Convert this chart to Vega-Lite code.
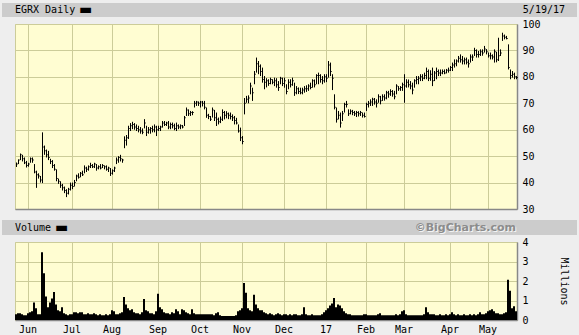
{
"$schema": "https://vega.github.io/schema/vega-lite/v6.json",
"background": "#eeeeee",
"padding": {"left": 2, "top": 3, "right": 2, "bottom": 4},
"spacing": 1,
"config": {
  "view": {"stroke": null},
  "axis": {"labelFont": "DejaVu Sans Mono", "labelFontSize": 10, "labelColor": "#000000", "titleFont": "DejaVu Sans Mono", "titleFontSize": 10, "titleFontWeight": "normal", "titleColor": "#000000", "gridColor": "#cccc99", "gridOpacity": 1, "gridWidth": 1, "domainColor": "#888888", "domainWidth": 1.5, "ticks": false},
  "text": {"font": "DejaVu Sans Mono", "fontSize": 10, "color": "#000000", "baseline": "middle"}
},
"datasets": {
"p": [
{"d":"2016-05-23","h":47.6,"l":45.9,"c":47,"v":0.3},
{"d":"2016-05-24","h":48.8,"l":47,"c":48.5,"v":0.35},
{"d":"2016-05-25","h":51,"l":48.5,"c":50.5,"v":0.35},
{"d":"2016-05-26","h":50.5,"l":48,"c":49,"v":0.3},
{"d":"2016-05-27","h":49.5,"l":47,"c":47.5,"v":0.25},
{"d":"2016-05-31","h":48.2,"l":45.7,"c":46.5,"v":0.25},
{"d":"2016-06-01","h":47.5,"l":46,"c":47,"v":0.35},
{"d":"2016-06-02","h":49.5,"l":47.5,"c":49,"v":0.4},
{"d":"2016-06-03","h":49.5,"l":47.5,"c":48.5,"v":0.45},
{"d":"2016-06-06","h":47,"l":43.5,"c":44,"v":0.9},
{"d":"2016-06-07","h":44.5,"l":38,"c":43,"v":0.6},
{"d":"2016-06-08","h":43.5,"l":41.5,"c":42.5,"v":0.3},
{"d":"2016-06-09","h":42.5,"l":40,"c":41,"v":0.3},
{"d":"2016-06-10","h":59,"l":39.8,"c":53.5,"v":3.47},
{"d":"2016-06-13","h":54,"l":50.5,"c":52,"v":2.4},
{"d":"2016-06-14","h":52.5,"l":49.5,"c":50.5,"v":1.2},
{"d":"2016-06-15","h":52,"l":48.5,"c":49.5,"v":0.65},
{"d":"2016-06-16","h":49,"l":47,"c":48,"v":0.9},
{"d":"2016-06-17","h":48.5,"l":45.5,"c":46.5,"v":1.1},
{"d":"2016-06-20","h":47,"l":44.5,"c":45,"v":1.43},
{"d":"2016-06-21","h":45,"l":40.5,"c":41.5,"v":0.8},
{"d":"2016-06-22","h":41.5,"l":39.5,"c":40.5,"v":0.5},
{"d":"2016-06-23","h":40.5,"l":38,"c":39,"v":0.45},
{"d":"2016-06-24","h":39.5,"l":37,"c":38,"v":0.65},
{"d":"2016-06-27","h":38.5,"l":36,"c":37,"v":0.35},
{"d":"2016-06-28","h":37.5,"l":34.5,"c":36,"v":0.3},
{"d":"2016-06-29","h":38,"l":35.5,"c":37.5,"v":0.25},
{"d":"2016-06-30","h":40,"l":37,"c":39,"v":0.3},
{"d":"2016-07-01","h":40,"l":37.5,"c":38.5,"v":0.3},
{"d":"2016-07-05","h":41,"l":38.5,"c":40,"v":0.4},
{"d":"2016-07-06","h":43,"l":40.5,"c":42.5,"v":0.4},
{"d":"2016-07-07","h":43.5,"l":41.5,"c":42,"v":0.35},
{"d":"2016-07-08","h":44,"l":42,"c":43.5,"v":0.4},
{"d":"2016-07-11","h":44.5,"l":42.5,"c":43,"v":0.4},
{"d":"2016-07-12","h":46.5,"l":43.5,"c":45.5,"v":0.3},
{"d":"2016-07-13","h":46,"l":44,"c":45,"v":0.3},
{"d":"2016-07-14","h":46.5,"l":44.5,"c":46,"v":0.35},
{"d":"2016-07-15","h":47.5,"l":45.5,"c":46.5,"v":0.3},
{"d":"2016-07-18","h":47,"l":45.5,"c":46,"v":0.3},
{"d":"2016-07-19","h":47.5,"l":45.5,"c":47,"v":0.35},
{"d":"2016-07-20","h":47,"l":44.5,"c":45.5,"v":0.3},
{"d":"2016-07-21","h":46.5,"l":45,"c":46,"v":0.25},
{"d":"2016-07-22","h":47,"l":45,"c":45.5,"v":0.3},
{"d":"2016-07-25","h":47,"l":45.5,"c":46.5,"v":0.25},
{"d":"2016-07-26","h":46.5,"l":45,"c":46,"v":0.25},
{"d":"2016-07-27","h":46.5,"l":44.5,"c":45,"v":0.3},
{"d":"2016-07-28","h":46,"l":44,"c":45.5,"v":0.25},
{"d":"2016-07-29","h":45.5,"l":42.5,"c":43.5,"v":0.3},
{"d":"2016-08-01","h":45,"l":43,"c":44.5,"v":0.5},
{"d":"2016-08-02","h":46,"l":44,"c":45.5,"v":0.45},
{"d":"2016-08-03","h":49.5,"l":47,"c":48.5,"v":0.3},
{"d":"2016-08-04","h":50,"l":47.5,"c":49.5,"v":0.3},
{"d":"2016-08-05","h":50.5,"l":48,"c":49,"v":0.35},
{"d":"2016-08-08","h":49,"l":47.5,"c":48.5,"v":0.4},
{"d":"2016-08-09","h":57.5,"l":53,"c":56,"v":1.18},
{"d":"2016-08-10","h":58,"l":54,"c":57,"v":0.8},
{"d":"2016-08-11","h":61.5,"l":56.5,"c":60.5,"v":0.6},
{"d":"2016-08-12","h":62.5,"l":59.5,"c":61.5,"v":0.5},
{"d":"2016-08-15","h":63,"l":60.2,"c":62,"v":0.55},
{"d":"2016-08-16","h":62.5,"l":60,"c":61,"v":0.4},
{"d":"2016-08-17","h":62,"l":59.5,"c":60.5,"v":0.35},
{"d":"2016-08-18","h":61.5,"l":59,"c":60,"v":0.35},
{"d":"2016-08-19","h":61,"l":58.5,"c":59.5,"v":0.3},
{"d":"2016-08-22","h":60.5,"l":58.3,"c":59,"v":0.4},
{"d":"2016-08-23","h":64,"l":60.5,"c":62.5,"v":1.08},
{"d":"2016-08-24","h":61.5,"l":57.6,"c":59,"v":0.5},
{"d":"2016-08-25","h":61,"l":58.5,"c":60,"v":0.45},
{"d":"2016-08-26","h":61,"l":58.5,"c":60.5,"v":0.35},
{"d":"2016-08-29","h":61.5,"l":59,"c":60,"v":0.35},
{"d":"2016-08-30","h":62,"l":59,"c":61,"v":0.3},
{"d":"2016-08-31","h":61.5,"l":57.6,"c":60,"v":0.45},
{"d":"2016-09-01","h":61.5,"l":59.5,"c":60.5,"v":1.35},
{"d":"2016-09-02","h":61.5,"l":59.5,"c":61,"v":0.65},
{"d":"2016-09-06","h":63.3,"l":60.8,"c":62.5,"v":0.55},
{"d":"2016-09-07","h":63.3,"l":61.4,"c":62,"v":0.4},
{"d":"2016-09-08","h":63,"l":61.4,"c":62.5,"v":0.35},
{"d":"2016-09-09","h":63.3,"l":60.2,"c":61,"v":0.35},
{"d":"2016-09-12","h":62.7,"l":60.2,"c":62,"v":0.3},
{"d":"2016-09-13","h":62.7,"l":60.5,"c":61.5,"v":0.4},
{"d":"2016-09-14","h":62.3,"l":59.8,"c":60.5,"v":0.35},
{"d":"2016-09-15","h":62.7,"l":59.5,"c":61.5,"v":0.55},
{"d":"2016-09-16","h":62,"l":60.2,"c":61,"v":0.45},
{"d":"2016-09-19","h":62,"l":60.2,"c":61.5,"v":0.3},
{"d":"2016-09-20","h":61.8,"l":60.5,"c":61,"v":0.55},
{"d":"2016-09-21","h":65.2,"l":61.4,"c":64.5,"v":0.5},
{"d":"2016-09-22","h":68.4,"l":65.2,"c":67.5,"v":0.4},
{"d":"2016-09-23","h":67.7,"l":65.2,"c":66,"v":0.35},
{"d":"2016-09-26","h":67.1,"l":65.2,"c":66.5,"v":0.3},
{"d":"2016-09-27","h":67,"l":65.5,"c":66.5,"v":0.55},
{"d":"2016-09-28","h":70.9,"l":68.4,"c":70,"v":0.35},
{"d":"2016-09-29","h":70.9,"l":69,"c":70.5,"v":0.3},
{"d":"2016-09-30","h":70.7,"l":69,"c":70,"v":0.3},
{"d":"2016-10-03","h":70.9,"l":68.4,"c":70.5,"v":0.3},
{"d":"2016-10-04","h":70.9,"l":68.8,"c":70,"v":0.3},
{"d":"2016-10-05","h":70.9,"l":67.7,"c":68.5,"v":0.3},
{"d":"2016-10-06","h":68.4,"l":64.5,"c":65.5,"v":0.3},
{"d":"2016-10-07","h":66,"l":64,"c":65,"v":0.3},
{"d":"2016-10-10","h":65.2,"l":63.3,"c":64,"v":0.3},
{"d":"2016-10-11","h":68.4,"l":64.6,"c":67.5,"v":0.3},
{"d":"2016-10-12","h":67.5,"l":63.3,"c":64.5,"v":0.25},
{"d":"2016-10-13","h":66.5,"l":61.4,"c":64,"v":0.35},
{"d":"2016-10-14","h":64.6,"l":62,"c":63,"v":0.4},
{"d":"2016-10-17","h":65,"l":62.5,"c":64,"v":0.25},
{"d":"2016-10-18","h":67.7,"l":63.3,"c":66.5,"v":0.2},
{"d":"2016-10-19","h":67.1,"l":63.9,"c":65.5,"v":0.2},
{"d":"2016-10-20","h":67,"l":64.3,"c":66,"v":0.2},
{"d":"2016-10-21","h":66.5,"l":64,"c":65.5,"v":0.2},
{"d":"2016-10-24","h":66.5,"l":63.9,"c":65,"v":0.2},
{"d":"2016-10-25","h":65.8,"l":63.3,"c":64.5,"v":0.2},
{"d":"2016-10-26","h":65.2,"l":62,"c":63.5,"v":0.2},
{"d":"2016-10-27","h":64.5,"l":62,"c":62.5,"v":0.25},
{"d":"2016-10-28","h":62,"l":58.9,"c":59.5,"v":0.45},
{"d":"2016-10-31","h":60.8,"l":55.7,"c":57,"v":0.5},
{"d":"2016-11-01","h":57.6,"l":54.5,"c":55.5,"v":0.6},
{"d":"2016-11-02","h":72,"l":65.8,"c":70,"v":1.9},
{"d":"2016-11-03","h":72.8,"l":70.2,"c":71.5,"v":1.4},
{"d":"2016-11-04","h":73,"l":70,"c":72,"v":0.6},
{"d":"2016-11-07","h":77.8,"l":73.4,"c":76.5,"v":0.5},
{"d":"2016-11-08","h":75.9,"l":70.9,"c":74,"v":0.45},
{"d":"2016-11-09","h":82.2,"l":77.2,"c":81,"v":1.3},
{"d":"2016-11-10","h":87.3,"l":81.6,"c":85,"v":0.8},
{"d":"2016-11-11","h":86,"l":81,"c":84,"v":0.6},
{"d":"2016-11-14","h":84.7,"l":80.3,"c":82,"v":0.5},
{"d":"2016-11-15","h":83.5,"l":77.8,"c":79,"v":0.5},
{"d":"2016-11-16","h":80.3,"l":75.3,"c":78,"v":0.4},
{"d":"2016-11-17","h":79.5,"l":76,"c":78.5,"v":0.35},
{"d":"2016-11-18","h":79.1,"l":76.6,"c":77.5,"v":0.3},
{"d":"2016-11-21","h":79.7,"l":77.2,"c":79,"v":0.35},
{"d":"2016-11-22","h":79.1,"l":77.2,"c":78,"v":0.3},
{"d":"2016-11-23","h":79.7,"l":76.5,"c":78.5,"v":0.25},
{"d":"2016-11-25","h":79.5,"l":75.9,"c":77,"v":0.3},
{"d":"2016-11-28","h":78.4,"l":74.7,"c":76,"v":0.35},
{"d":"2016-11-29","h":80,"l":77.2,"c":79.5,"v":0.3},
{"d":"2016-11-30","h":79.7,"l":76.5,"c":77.5,"v":0.25},
{"d":"2016-12-01","h":79.7,"l":75.9,"c":78.5,"v":0.3},
{"d":"2016-12-02","h":77.2,"l":73.4,"c":74.5,"v":0.3},
{"d":"2016-12-05","h":79.1,"l":75.3,"c":78,"v":0.25},
{"d":"2016-12-06","h":79.1,"l":76,"c":77,"v":0.3},
{"d":"2016-12-07","h":79.7,"l":76.6,"c":78.5,"v":0.25},
{"d":"2016-12-08","h":77.8,"l":72.8,"c":74,"v":0.3},
{"d":"2016-12-09","h":76.5,"l":73.4,"c":75.5,"v":0.3},
{"d":"2016-12-12","h":76,"l":73.5,"c":74.5,"v":0.25},
{"d":"2016-12-13","h":75.9,"l":73.4,"c":74,"v":0.25},
{"d":"2016-12-14","h":75.9,"l":73.4,"c":75,"v":0.3},
{"d":"2016-12-15","h":76.5,"l":74,"c":75.5,"v":0.65},
{"d":"2016-12-16","h":76.8,"l":74.3,"c":75.5,"v":0.3},
{"d":"2016-12-19","h":77.2,"l":74.7,"c":76.5,"v":0.25},
{"d":"2016-12-20","h":77.8,"l":75.3,"c":76,"v":0.25},
{"d":"2016-12-21","h":79.1,"l":75.9,"c":78.5,"v":0.3},
{"d":"2016-12-22","h":79,"l":76,"c":77,"v":0.25},
{"d":"2016-12-23","h":81,"l":77.2,"c":80.5,"v":0.25},
{"d":"2016-12-27","h":81.6,"l":77.2,"c":80.5,"v":0.25},
{"d":"2016-12-28","h":81,"l":77.8,"c":79,"v":0.25},
{"d":"2016-12-29","h":80.3,"l":77.2,"c":78.5,"v":0.3},
{"d":"2016-12-30","h":81,"l":77.8,"c":80,"v":0.4},
{"d":"2017-01-03","h":81,"l":78,"c":79.5,"v":0.5},
{"d":"2017-01-04","h":86,"l":79.7,"c":84.5,"v":0.6},
{"d":"2017-01-05","h":85.4,"l":80.3,"c":82,"v":0.75},
{"d":"2017-01-06","h":81,"l":75,"c":79.5,"v":0.85},
{"d":"2017-01-09","h":73.4,"l":67.7,"c":68.5,"v":1.13},
{"d":"2017-01-10","h":68.4,"l":62.7,"c":64,"v":0.65},
{"d":"2017-01-11","h":67.1,"l":63.9,"c":65.5,"v":0.8},
{"d":"2017-01-12","h":66.5,"l":60.8,"c":62.5,"v":0.75},
{"d":"2017-01-13","h":67.1,"l":63.3,"c":66,"v":0.6},
{"d":"2017-01-17","h":70.2,"l":66.5,"c":69.5,"v":0.45},
{"d":"2017-01-18","h":70.9,"l":68.4,"c":69.5,"v":0.35},
{"d":"2017-01-19","h":67.7,"l":65.2,"c":66,"v":0.3},
{"d":"2017-01-20","h":67.7,"l":65.8,"c":67,"v":0.3},
{"d":"2017-01-23","h":67.5,"l":65.5,"c":66.5,"v":0.25},
{"d":"2017-01-24","h":67.1,"l":65.2,"c":66,"v":0.25},
{"d":"2017-01-25","h":67.1,"l":64.8,"c":66.5,"v":0.25},
{"d":"2017-01-26","h":67,"l":65,"c":66,"v":0.25},
{"d":"2017-01-27","h":67.1,"l":65.2,"c":66.5,"v":0.25},
{"d":"2017-01-30","h":66.5,"l":64.6,"c":65.5,"v":0.25},
{"d":"2017-01-31","h":66.5,"l":64.6,"c":65,"v":0.3},
{"d":"2017-02-01","h":70.2,"l":67.1,"c":69.5,"v":0.3},
{"d":"2017-02-02","h":70.9,"l":68.4,"c":70,"v":0.25},
{"d":"2017-02-03","h":71.5,"l":69,"c":70.5,"v":0.25},
{"d":"2017-02-06","h":72.1,"l":69,"c":71.5,"v":0.25},
{"d":"2017-02-07","h":72,"l":69.5,"c":70.5,"v":0.25},
{"d":"2017-02-08","h":71.5,"l":68.4,"c":70,"v":0.25},
{"d":"2017-02-09","h":73.4,"l":70.2,"c":72.5,"v":0.3},
{"d":"2017-02-10","h":72.8,"l":69.6,"c":71,"v":0.35},
{"d":"2017-02-13","h":73.4,"l":70.9,"c":72.5,"v":0.25},
{"d":"2017-02-14","h":73.4,"l":71,"c":72,"v":0.25},
{"d":"2017-02-15","h":74.7,"l":71.5,"c":74,"v":0.25},
{"d":"2017-02-16","h":74.7,"l":72.1,"c":73.5,"v":0.25},
{"d":"2017-02-17","h":75.3,"l":72.8,"c":74.5,"v":0.25},
{"d":"2017-02-21","h":75,"l":72.5,"c":73.5,"v":0.25},
{"d":"2017-02-22","h":74.7,"l":71.5,"c":72.5,"v":0.25},
{"d":"2017-02-23","h":77.2,"l":73.4,"c":76.5,"v":0.3},
{"d":"2017-02-24","h":76.5,"l":74.7,"c":75.5,"v":0.25},
{"d":"2017-02-27","h":76.5,"l":74.7,"c":76,"v":0.3},
{"d":"2017-02-28","h":77.8,"l":74.7,"c":77,"v":0.45},
{"d":"2017-03-01","h":81,"l":70.2,"c":76.5,"v":0.5},
{"d":"2017-03-02","h":79.1,"l":75.9,"c":78,"v":0.3},
{"d":"2017-03-03","h":79,"l":76,"c":77,"v":0.25},
{"d":"2017-03-06","h":78.4,"l":75.3,"c":76.5,"v":0.25},
{"d":"2017-03-07","h":77.8,"l":73.4,"c":75,"v":0.25},
{"d":"2017-03-08","h":79.1,"l":75.9,"c":78.5,"v":0.25},
{"d":"2017-03-09","h":80.3,"l":77.2,"c":79,"v":0.25},
{"d":"2017-03-10","h":80.3,"l":77.2,"c":79.5,"v":0.25},
{"d":"2017-03-13","h":81,"l":78.4,"c":80,"v":0.25},
{"d":"2017-03-14","h":81,"l":78.4,"c":79.5,"v":0.25},
{"d":"2017-03-15","h":81.6,"l":79.1,"c":80.5,"v":0.3},
{"d":"2017-03-16","h":83.5,"l":79.1,"c":82,"v":0.65},
{"d":"2017-03-17","h":82.8,"l":78.4,"c":79.5,"v":0.4},
{"d":"2017-03-20","h":82.5,"l":78.5,"c":81,"v":0.3},
{"d":"2017-03-21","h":83.5,"l":76.5,"c":78.5,"v":0.3},
{"d":"2017-03-22","h":82.2,"l":78.4,"c":81.5,"v":0.3},
{"d":"2017-03-23","h":83.5,"l":79.1,"c":82,"v":0.25},
{"d":"2017-03-24","h":82.8,"l":80.3,"c":81.5,"v":0.25},
{"d":"2017-03-27","h":82.8,"l":80.3,"c":81.5,"v":0.3},
{"d":"2017-03-28","h":82.8,"l":81,"c":82,"v":0.25},
{"d":"2017-03-29","h":82.8,"l":81,"c":81.5,"v":0.25},
{"d":"2017-03-30","h":83,"l":81.3,"c":82.5,"v":0.3},
{"d":"2017-03-31","h":83.5,"l":81.6,"c":82.5,"v":0.25},
{"d":"2017-04-03","h":84.1,"l":82.2,"c":83.5,"v":0.3},
{"d":"2017-04-04","h":85.4,"l":82.2,"c":84.5,"v":0.4},
{"d":"2017-04-05","h":86.6,"l":83.5,"c":85,"v":0.3},
{"d":"2017-04-06","h":86.6,"l":84,"c":86,"v":0.25},
{"d":"2017-04-07","h":87.9,"l":85.4,"c":87,"v":0.3},
{"d":"2017-04-10","h":88.5,"l":85.4,"c":86.5,"v":0.25},
{"d":"2017-04-11","h":87.9,"l":84.7,"c":86,"v":0.25},
{"d":"2017-04-12","h":87.3,"l":84.7,"c":86.5,"v":0.3},
{"d":"2017-04-13","h":87.3,"l":84.7,"c":85.5,"v":0.25},
{"d":"2017-04-17","h":86.6,"l":83.5,"c":85,"v":0.25},
{"d":"2017-04-18","h":88.5,"l":85.4,"c":87.5,"v":0.3},
{"d":"2017-04-19","h":88.5,"l":86,"c":87.5,"v":0.25},
{"d":"2017-04-20","h":91,"l":87.9,"c":90,"v":0.3},
{"d":"2017-04-21","h":90.4,"l":87.3,"c":88.5,"v":0.25},
{"d":"2017-04-24","h":89.8,"l":87.3,"c":88.5,"v":0.3},
{"d":"2017-04-25","h":90.4,"l":87.9,"c":89.5,"v":0.4},
{"d":"2017-04-26","h":90.4,"l":88,"c":89,"v":0.3},
{"d":"2017-04-27","h":91.7,"l":89.2,"c":90.5,"v":0.3},
{"d":"2017-04-28","h":90.5,"l":88.5,"c":89.5,"v":0.35},
{"d":"2017-05-01","h":89.2,"l":87.3,"c":88,"v":0.45},
{"d":"2017-05-02","h":89.2,"l":86.6,"c":88,"v":0.5},
{"d":"2017-05-03","h":88.5,"l":86.6,"c":87.5,"v":0.55},
{"d":"2017-05-04","h":90.4,"l":85.4,"c":89.5,"v":0.45},
{"d":"2017-05-05","h":89.5,"l":85.5,"c":86.5,"v":0.35},
{"d":"2017-05-08","h":94.8,"l":86,"c":88,"v":0.35},
{"d":"2017-05-09","h":90.4,"l":87.9,"c":89,"v":0.3},
{"d":"2017-05-10","h":96.7,"l":93.6,"c":95.5,"v":0.3},
{"d":"2017-05-11","h":96,"l":94.2,"c":95,"v":0.35},
{"d":"2017-05-12","h":95.5,"l":94.2,"c":94.5,"v":0.4},
{"d":"2017-05-15","h":92.3,"l":82.8,"c":83.5,"v":2.07},
{"d":"2017-05-16","h":82.8,"l":79.1,"c":80.5,"v":1.5},
{"d":"2017-05-17","h":82.2,"l":79.7,"c":81,"v":0.6},
{"d":"2017-05-18","h":81.6,"l":79.1,"c":80,"v":0.7},
{"d":"2017-05-19","h":80.3,"l":79.1,"c":79.8,"v":0.45}
]
},
"vconcat": [
{
  "width": 575, "height": 14,
  "view": {"fill": "#cccccc", "stroke": null},
  "data": {"values": [{"k": "a", "t": "EGRX Daily"}, {"k": "b", "t": "5/19/17"}, {"k": "a", "t": "▬"}]},
  "encoding": {
    "x": {"field": "k", "type": "nominal", "scale": {"type": "point", "domain": ["a", "b"], "padding": 0}, "axis": null},
    "text": {"field": "t"}
  },
  "layer": [
    {"transform": [{"filter": "datum.t == 'EGRX Daily'"}], "mark": {"type": "text", "align": "left", "dx": 13}},
    {"transform": [{"filter": "datum.t == '▬'"}], "mark": {"type": "text", "align": "left", "dx": 77, "font": "DejaVu Sans", "fontSize": 14}},
    {"transform": [{"filter": "datum.t == '5/19/17'"}], "mark": {"type": "text", "align": "right", "dx": -12}}
  ]
},
{
  "spacing": 0,
  "hconcat": [
    {"width": 12, "height": 185, "data": {"values": [{}]}, "mark": {"type": "rect", "opacity": 0}, "encoding": {}},
    {
      "width": 502, "height": 185,
      "view": {"fill": "#fffdd2", "stroke": "#cccc99"},
      "data": {"name": "p"},
      "encoding": {
        "x": {"field": "d", "type": "ordinal", "scale": {"type": "band", "paddingInner": 0, "paddingOuter": 0},
          "axis": {"values": ["2016-06-01","2016-07-01","2016-08-01","2016-09-01","2016-10-03","2016-11-01","2016-12-01","2017-01-03","2017-02-01","2017-03-01","2017-04-03","2017-05-01"], "labels": false, "ticks": false, "grid": true, "title": null, "minExtent": 9, "maxExtent": 9}}
      },
      "layer": [
        {"mark": {"type": "rule", "color": "#000000", "strokeWidth": 1, "xOffset": 0.5},
         "encoding": {
           "y": {"field": "l", "type": "quantitative", "scale": {"domain": [30, 100], "nice": false, "zero": false},
             "axis": {"orient": "right", "values": [30, 40, 50, 60, 70, 80, 90, 100], "grid": true, "title": null, "labelPadding": 5}},
           "y2": {"field": "h"}}},
        {"mark": {"type": "tick", "color": "#000000", "size": 1, "thickness": 1, "xOffset": 1.5},
         "encoding": {
           "y": {"field": "c", "type": "quantitative", "axis": null}}}
      ],
      "resolve": {"axis": {"y": "independent"}}
    }
  ]
},
{
  "width": 575, "height": 15,
  "view": {"fill": "#cccccc", "stroke": null},
  "data": {"values": [{"k": "a", "t": "Volume"}, {"k": "a", "t": "▬"}, {"k": "b", "t": "©BigCharts.com"}]},
  "encoding": {
    "x": {"field": "k", "type": "nominal", "scale": {"type": "point", "domain": ["a", "b"], "padding": 0}, "axis": null},
    "text": {"field": "t"}
  },
  "layer": [
    {"transform": [{"filter": "datum.t == 'Volume'"}], "mark": {"type": "text", "align": "left", "dx": 13}},
    {"transform": [{"filter": "datum.t == '▬'"}], "mark": {"type": "text", "align": "left", "dx": 53, "font": "DejaVu Sans", "fontSize": 14}},
    {"transform": [{"filter": "datum.t == '©BigCharts.com'"}], "mark": {"type": "text", "align": "right", "dx": -60, "dy": 1, "font": "DejaVu Sans", "fontWeight": "bold", "fontSize": 11, "color": "#f4f4f4"}},
    {"transform": [{"filter": "datum.t == '©BigCharts.com'"}], "mark": {"type": "text", "align": "right", "dx": -61, "font": "DejaVu Sans", "fontWeight": "bold", "fontSize": 11, "color": "#8c8c8c"}}
  ]
},
{
  "spacing": 0,
  "hconcat": [
    {"width": 12, "height": 78, "data": {"values": [{}]}, "mark": {"type": "rect", "opacity": 0}, "encoding": {}},
    {
      "width": 502, "height": 78,
      "view": {"fill": "#fffdd2", "stroke": "#cccc99"},
      "data": {"name": "p"},
      "mark": {"type": "bar", "color": "#000000"},
      "encoding": {
        "x": {"field": "d", "type": "ordinal", "scale": {"type": "band", "paddingInner": 0, "paddingOuter": 0},
          "axis": {"values": ["2016-06-01","2016-07-01","2016-08-01","2016-09-01","2016-10-03","2016-11-01","2016-12-01","2017-01-03","2017-02-01","2017-03-01","2017-04-03","2017-05-01"],
            "labelExpr": "datum.value == '2017-01-03' ? '17' : utcFormat(toDate(datum.value), '%b')",
            "labelAngle": 0, "labelPadding": 4, "ticks": false, "grid": true, "title": null}},
        "y": {"field": "v", "type": "quantitative", "scale": {"domain": [0, 4], "nice": false},
          "axis": {"orient": "right", "values": [0, 1, 2, 3, 4], "grid": true, "title": "Millions", "titlePadding": 30, "labelPadding": 5}}
      }
    }
  ]
}
]
}
